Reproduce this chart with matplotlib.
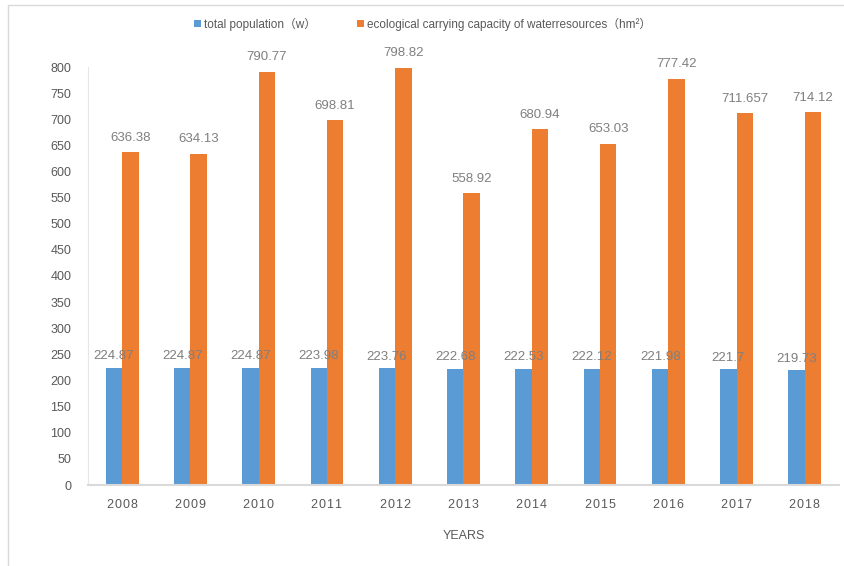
import numpy as np
import matplotlib
import matplotlib.pyplot as plt
from matplotlib.patches import Rectangle

matplotlib.use('Agg')

plt.rcParams['font.family'] = ['Liberation Sans', 'Noto Sans CJK SC', 'DejaVu Sans']

years = ['2008', '2009', '2010', '2011', '2012', '2013', '2014', '2015', '2016', '2017', '2018']
population = [224.87, 224.87, 224.87, 223.98, 223.76, 222.68, 222.53, 222.12, 221.98, 221.7, 219.73]
water_capacity = [636.38, 634.13, 790.77, 698.81, 798.82, 558.92, 680.94, 653.03, 777.42, 711.657, 714.12]
population_labels = ['224.87', '224.87', '224.87', '223.98', '223.76', '222.68', '222.53', '222.12', '221.98', '221.7', '219.73']
water_labels = ['636.38', '634.13', '790.77', '698.81', '798.82', '558.92', '680.94', '653.03', '777.42', '711.657', '714.12']

BLUE = '#5B9BD5'
ORANGE = '#ED7D31'
TEXT = '#595959'
LABEL = '#7F7F7F'

fig = plt.figure(figsize=(8.45, 5.66), dpi=100)
# outer frame of the chart area
fig.patches.append(Rectangle((8 / 845, -0.1), 1.0, 1.1 - 5 / 566, transform=fig.transFigure,
                             fill=False, edgecolor='#D9D9D9', linewidth=1.0))

ax = fig.add_axes([88 / 845, 1 - 485 / 566, (839 - 88) / 845, (485 - 67) / 566])

x = np.arange(len(years))
w = 0.24
b1 = ax.bar(x - w / 2, population, w, color=BLUE, label='total population（w）')
b2 = ax.bar(x + w / 2, water_capacity, w, color=ORANGE,
            label='ecological carrying capacity of waterresources（hm²）')

for bar, txt in zip(b1, population_labels):
    ax.annotate(txt, (bar.get_x() + bar.get_width() / 2, bar.get_height()),
                xytext=(0, 4), textcoords='offset points', ha='center', va='bottom',
                fontsize=9.5, color=LABEL)
for bar, txt in zip(b2, water_labels):
    ax.annotate(txt, (bar.get_x() + bar.get_width() / 2, bar.get_height()),
                xytext=(0, 6), textcoords='offset points', ha='center', va='bottom',
                fontsize=9.5, color=LABEL)

ax.set_xlim(-0.5, len(years) - 0.5)
ax.set_ylim(0, 800)
ax.set_yticks(np.arange(0, 801, 50))
ax.set_xticks(x)
ax.set_xticklabels(['\u200a'.join(y) for y in years])
ax.tick_params(length=0, labelsize=9, colors=TEXT)
ax.tick_params(axis='x', pad=10)
ax.tick_params(axis='y', pad=12)

for s in ['top', 'right']:
    ax.spines[s].set_visible(False)
ax.spines['left'].set_color('#E6E6E6')
ax.spines['left'].set_linewidth(0.8)
ax.spines['bottom'].set_color('#D9D9D9')
ax.spines['bottom'].set_linewidth(1.5)

ax.set_xlabel('YEARS', fontsize=9, color=TEXT, labelpad=14)

fig.legend(loc='center', bbox_to_anchor=(0.5, 1 - 24 / 566), ncol=2, frameon=False,
           fontsize=8.5, labelcolor=TEXT, handlelength=0.6, handleheight=0.6,
           handletextpad=0.2, columnspacing=3.5)

fig.savefig('out.png', dpi=100)
